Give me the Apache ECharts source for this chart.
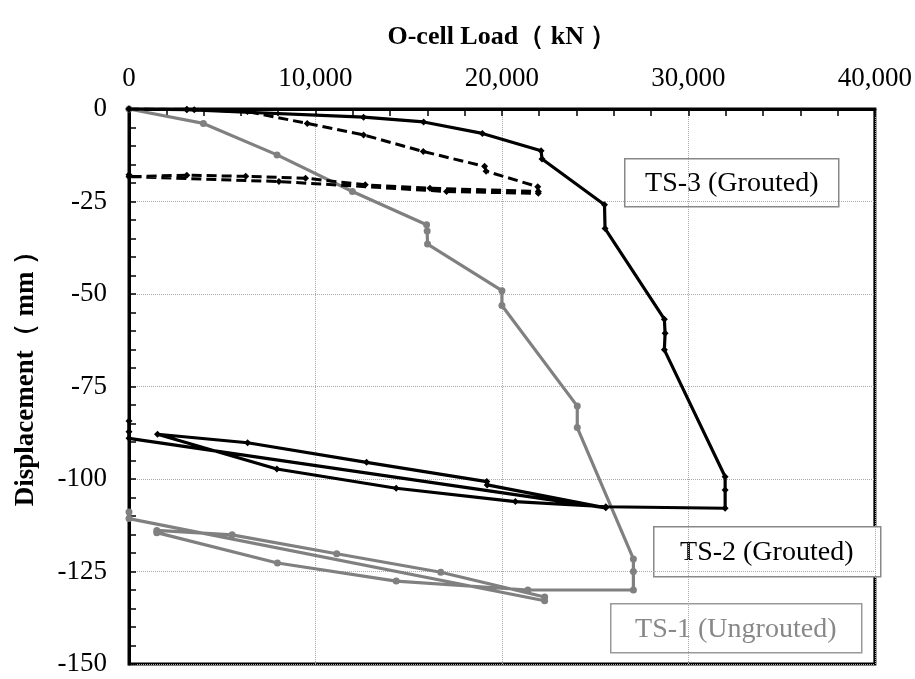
<!DOCTYPE html>
<html>
<head>
<meta charset="utf-8">
<script src="https://cdn.jsdelivr.net/npm/echarts@6/dist/echarts.min.js"></script>
<style>
  html, body { margin: 0; padding: 0; background: #fff; }
  #chart { width: 915px; height: 679px; }
</style>
</head>
<body>
<div id="chart"></div>
<script>
// O-cell load (kN) and displacement (mm)
var ts3Load = [0, 3100, 3500, 6350, 9560, 12580, 15780, 19070, 19150, 21920, 21950, 17030, 8040, 0, 0, 3100, 6260, 9470, 12670, 16140, 21950];
var ts3Disp = [0, -0.1, -0.2, -0.7, -3.9, -7.0, -11.5, -15.5, -16.8, -21.0, -22.8, -22.3, -19.6, -18.3, -17.8, -17.9, -18.2, -18.7, -20.5, -21.4, -22.3];

var ts2Load = [0, 3100, 12580, 15800, 18950, 22100, 22150, 25500, 25530, 28710, 28750, 28710, 31970, 31970, 31970, 25570, 20720, 14330, 7930, 1530, 6360, 12740, 19190, 19210, 25570, 0, 0, 0];
var ts2Disp = [0, -0.2, -2.2, -3.5, -6.6, -11.3, -13.5, -25.9, -32.3, -56.8, -60.6, -65.1, -99.4, -103.0, -107.9, -107.5, -106.1, -102.5, -97.3, -87.9, -90.2, -95.5, -100.7, -101.6, -107.8, -89.0, -87.2, -84.3];

var ts1Load = [0, 3990, 7940, 11980, 15960, 15990, 16010, 20000, 20000, 24040, 24040, 27050, 27050, 27050, 21390, 14330, 7960, 1490, 1490, 5530, 11140, 16720, 22290, 22290, 0, 0];
var ts1Disp = [0, -3.9, -12.4, -22.3, -31.3, -33.0, -36.5, -49.1, -53.1, -80.3, -86.1, -121.6, -125.0, -130.0, -130.0, -127.6, -122.7, -114.5, -113.9, -115.1, -120.2, -125.2, -131.9, -132.9, -110.7, -108.9];

var xTicks = [0, 10000, 20000, 30000, 40000];
var yTicks = [0, -25, -50, -75, -100, -125, -150];
var labels = ['TS-3 (Grouted)', 'TS-2 (Grouted)', 'TS-1 (Ungrouted)'];

function pairs(xs, ys) {
    var out = [];
    for (var i = 0; i < xs.length; i++) out.push([xs[i], ys[i]]);
    return out;
}

var serif = '"Liberation Serif", "Times New Roman", serif';

var chart = echarts.init(document.getElementById('chart'));

var option = {
    backgroundColor: '#fff',
    animation: false,
    grid: {
        left: 129, right: 40, top: 109, bottom: 15,
        show: true, borderColor: '#000', borderWidth: 3
    },
    xAxis: {
        type: 'value',
        position: 'top',
        min: xTicks[0], max: xTicks[xTicks.length - 1], interval: 10000,
        name: 'O-cell Load（ kN ）',
        nameLocation: 'middle',
        nameGap: 59,
        nameTextStyle: { fontFamily: serif, fontWeight: 'bold', fontSize: 26, color: '#000' },
        axisLine: { show: true, lineStyle: { color: '#000', width: 3 } },
        axisTick: { show: true, inside: true, length: 7, lineStyle: { color: '#000', width: 1.5 } },
        minorTick: { show: true, splitNumber: 5, length: 7, lineStyle: { color: '#000', width: 1.5 } },
        axisLabel: {
            fontFamily: serif, fontSize: 27, color: '#000', margin: 17,
            formatter: function (v) { return v.toLocaleString('en-US'); }
        },
        splitLine: { show: true, lineStyle: { color: '#aaa', type: 'dotted', width: 1 } }
    },
    yAxis: {
        type: 'value',
        min: yTicks[yTicks.length - 1], max: yTicks[0], interval: 25,
        axisLine: { show: true, lineStyle: { color: '#000', width: 3 } },
        axisTick: { show: true, inside: true, length: 7, lineStyle: { color: '#000', width: 1.5 } },
        minorTick: { show: true, splitNumber: 5, length: 7, lineStyle: { color: '#000', width: 1.5 } },
        axisLabel: { fontFamily: serif, fontSize: 27, color: '#000', margin: 22 },
        splitLine: { show: true, lineStyle: { color: '#aaa', type: 'dotted', width: 1 } }
    },
    series: [
        {
            name: 'TS-3', type: 'line', data: pairs(ts3Load, ts3Disp),
            symbol: 'diamond', symbolSize: 7, showSymbol: true,
            lineStyle: { color: '#000', width: 3, type: [10, 5] },
            itemStyle: { color: '#000' }, z: 3
        },
        {
            name: 'TS-2', type: 'line', data: pairs(ts2Load, ts2Disp),
            symbol: 'diamond', symbolSize: 7, showSymbol: true,
            lineStyle: { color: '#000', width: 3.2 },
            itemStyle: { color: '#000' }, z: 3
        },
        {
            name: 'TS-1', type: 'line', data: pairs(ts1Load, ts1Disp),
            symbol: 'circle', symbolSize: 7, showSymbol: true,
            lineStyle: { color: '#808080', width: 3.2 },
            itemStyle: { color: '#808080' }, z: 2
        }
    ],
    graphic: [
        {
            type: 'text', x: 26, y: 372, rotation: Math.PI / 2,
            style: { text: 'Displacement（ mm ）', font: 'bold 27px ' + serif, fill: '#000', align: 'center', verticalAlign: 'middle' }
        },
        {
            type: 'group', left: 624, top: 158, z: 10,
            children: [
                { type: 'rect', shape: { x: 0, y: 0, width: 214, height: 48 }, style: { fill: '#fff', stroke: '#888', lineWidth: 1.5 } },
                { type: 'text', x: 107, y: 25, style: { text: labels[0], font: '28px ' + serif, fill: '#000', align: 'center', verticalAlign: 'middle' } }
            ]
        },
        {
            type: 'group', left: 653, top: 526, z: 10,
            children: [
                { type: 'rect', shape: { x: 0, y: 0, width: 227, height: 50 }, style: { fill: '#fff', stroke: '#888', lineWidth: 1.5 } },
                { type: 'text', x: 113, y: 26, style: { text: labels[1], font: '28px ' + serif, fill: '#000', align: 'center', verticalAlign: 'middle' } }
            ]
        },
        {
            type: 'group', left: 610, top: 603, z: 10,
            children: [
                { type: 'rect', shape: { x: 0, y: 0, width: 251, height: 49 }, style: { fill: '#fff', stroke: '#999', lineWidth: 1.5 } },
                { type: 'text', x: 125, y: 26, style: { text: labels[2], font: '28px ' + serif, fill: '#888', align: 'center', verticalAlign: 'middle' } }
            ]
        }
    ]
};

chart.setOption(option);
</script>
</body>
</html>
